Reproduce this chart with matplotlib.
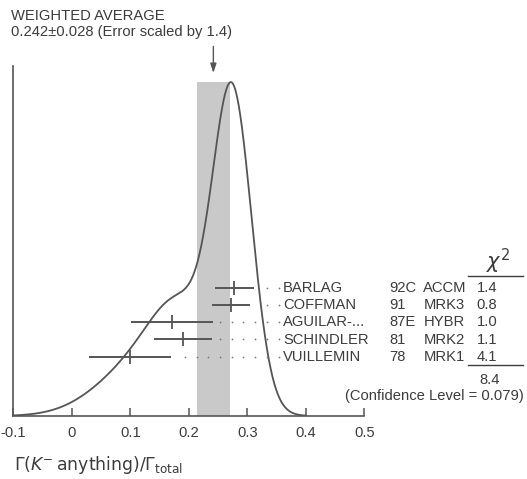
import numpy as np
import matplotlib
matplotlib.use("Agg")
import matplotlib.pyplot as plt

plt.rcParams['font.family'] = ['Liberation Sans', 'DejaVu Sans']
plt.rcParams['axes.unicode_minus'] = False
plt.rcParams['mathtext.fontset'] = 'dejavusans'

# Measurements entering the average
names = ["BARLAG", "COFFMAN", "AGUILAR-...", "SCHINDLER", "VUILLEMIN"]
codes = ["92C", "91", "87E", "81", "78"]
techs = ["ACCM", "MRK3", "HYBR", "MRK2", "MRK1"]
values = [0.278, 0.272, 0.171, 0.190, 0.100]
errors = [0.033, 0.033, 0.070, 0.050, 0.070]
chi2 = ["1.4", "0.8", "1.0", "1.1", "4.1"]

avg_value = 0.242
avg_error = 0.028
scale_factor = 1.4
chi2_total = "8.4"
conf_level = "0.079"

tick_values = [-0.1, 0.0, 0.1, 0.2, 0.3, 0.4, 0.5]
tick_labels = ["-0.1", "0", "0.1", "0.2", "0.3", "0.4", "0.5"]

INK = "#3c3c3c"
LINE = "#555555"
BAND = "#c9c9c9"

W, H = 527, 479
fig = plt.figure(figsize=(W / 100, H / 100), dpi=100)
fig.patch.set_facecolor("white")


def fx(px):
    return px / W


def fy(py):
    return 1 - py / H


ax = fig.add_axes([fx(13.3), fy(416), fx(364.3) - fx(13.3), fy(66) - fy(416)])

# Ideogram: each measurement a Gaussian with area proportional to 1/sigma
x = np.linspace(-0.1, 0.4, 800)
curve = np.zeros_like(x)
for v, e in zip(values, errors):
    curve += (1 / e) * np.exp(-0.5 * ((x - v) / e) ** 2) / (e * np.sqrt(2 * np.pi))
curve /= curve.max()
ytop = 1 / 0.954

ax.axvspan(avg_value - avg_error, avg_value + avg_error, ymin=0, ymax=1 / ytop,
           color=BAND, lw=0, zorder=1)
ax.plot(x, curve, color=LINE, lw=1.3, zorder=3)

# Measurement rows with dotted leaders to the labels
row_frac = [0.3657, 0.3163, 0.2677, 0.2194, 0.1694]
dot_grid = np.arange(0.1935, 0.36, 0.02)
for v, e, fr in zip(values, errors, row_frac):
    yv = fr * ytop
    ax.plot([v - e, v + e], [yv, yv], color=LINE, lw=1.4, zorder=4, solid_capstyle='butt')
    ax.plot([v], [yv], marker='|', ms=10, mew=1.3, color=LINE, zorder=4)
    dots = dot_grid[dot_grid > v + e + 0.012]
    ax.scatter(dots, np.full_like(dots, yv), s=1.6, color="#777777", lw=0,
               zorder=4, clip_on=False)

ax.set_xlim(-0.1, 0.5)
ax.set_ylim(0, ytop)
ax.set_yticks([])
ax.set_xticks(tick_values)
ax.set_xticklabels(tick_labels, fontsize=10.6, color=INK)
ax.tick_params(axis='x', direction='in', length=6, width=1.1, color=LINE, pad=7.5)
for s in ("top", "right"):
    ax.spines[s].set_visible(False)
for s in ("left", "bottom"):
    ax.spines[s].set_color(LINE)
    ax.spines[s].set_linewidth(1.2)
ax.set_facecolor("none")

# Arrow marking the weighted average
ax.annotate("", xy=(avg_value, 0.98), xytext=(avg_value, 1.056),
            xycoords=('data', 'axes fraction'), textcoords=('data', 'axes fraction'),
            arrowprops=dict(arrowstyle='-|>,head_length=0.55,head_width=0.18',
                            color=LINE, lw=1.0, shrinkA=0, shrinkB=0),
            annotation_clip=False)

fs = 10.6
fig.text(fx(11), fy(20), "WEIGHTED AVERAGE", fontsize=fs, color=INK, va='baseline')
fig.text(fx(11), fy(36),
         f"{avg_value:.3f}\u00b1{avg_error:.3f} (Error scaled by {scale_factor})",
         fontsize=fs, color=INK, va='baseline')

row_px = [288, 305.3, 322.3, 339.7, 356.7]
for n, c, t, ch, py in zip(names, codes, techs, chi2, row_px):
    fig.text(fx(283), fy(py), n, fontsize=fs, color=INK, va='center')
    fig.text(fx(389.3), fy(py), c, fontsize=fs, color=INK, va='center')
    fig.text(fx(423.3), fy(py), t, fontsize=fs, color=INK, va='center')
    fig.text(fx(487), fy(py), ch, fontsize=fs, color=INK, va='center', ha='center')

fig.text(fx(498), fy(261), r"$\chi^2$", fontsize=15, color=INK, va='center', ha='center')
fig.add_artist(plt.Line2D([fx(468), fx(523)], [fy(276), fy(276)], color=INK, lw=1.0))
fig.add_artist(plt.Line2D([fx(468), fx(523)], [fy(365), fy(365)], color=INK, lw=1.0))
fig.text(fx(490), fy(380), chi2_total, fontsize=fs, color=INK, va='center', ha='center')
fig.text(fx(524), fy(396), f"(Confidence Level = {conf_level})", fontsize=fs,
         color=INK, va='center', ha='right')

fig.text(fx(14), fy(465),
         r"$\Gamma\left(K^{-}\,\mathrm{anything}\right)/\Gamma_{\mathrm{total}}$",
         fontsize=12.4, color=INK, va='center', ha='left')

fig.savefig("out.png", dpi=100, facecolor="white")
